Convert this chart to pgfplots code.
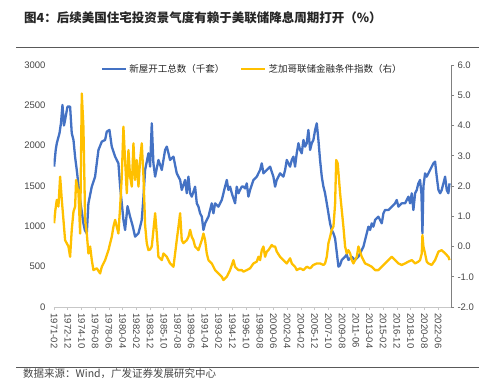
\documentclass[border=0pt]{standalone}
\usepackage{pgfplots}
\pgfplotsset{compat=1.18}
\usepackage{fontspec}
\setmainfont{Liberation Sans}
\newfontfamily\cjk{Noto Sans CJK SC}
\definecolor{bl}{RGB}{68,114,196}
\definecolor{yl}{RGB}{255,192,0}
\definecolor{tx}{RGB}{70,70,70}

\pgfplotstableread{
x y
1971.08 1740
1971.30 1950
1971.44 2030
1971.80 2154
1972.00 2280
1972.20 2505
1972.40 2250
1972.55 2319
1972.87 2484
1973.22 2484
1973.44 2154
1973.67 2071
1973.90 1850
1974.11 1699
1974.56 1327
1975.00 1037
1975.20 950
1975.45 913
1975.67 1285
1976.12 1492
1976.56 1616
1977.01 1947
1977.46 2050
1977.90 2071
1978.12 2174
1978.48 2195
1978.79 1988
1979.24 1864
1979.68 1781
1979.91 1492
1980.35 1079
1980.57 955
1980.90 1250
1981.24 1120
1981.60 1000
1981.91 872
1982.36 913
1982.80 1079
1983.00 1327
1983.25 1699
1983.69 1905
1983.92 1740
1984.14 2277
1984.36 1781
1984.59 1616
1985.03 1823
1985.48 1699
1985.92 1947
1986.15 1988
1986.59 1823
1987.04 1864
1987.48 1657
1987.93 1575
1988.15 1451
1988.60 1575
1988.82 1410
1989.04 1616
1989.27 1410
1989.49 1368
1989.93 1492
1990.16 1285
1990.38 1244
1990.60 1161
1990.83 1120
1991.05 955
1991.27 1037
1991.49 1079
1991.72 1120
1992.16 1285
1992.38 1161
1992.61 1285
1993.05 1244
1993.50 1327
1993.94 1492
1994.17 1575
1994.39 1451
1994.61 1492
1994.84 1410
1995.28 1285
1995.50 1492
1995.73 1410
1995.95 1451
1996.17 1492
1996.40 1492
1996.62 1470
1996.84 1533
1997.06 1368
1997.29 1451
1997.73 1575
1998.18 1616
1998.62 1699
1998.85 1781
1999.07 1657
1999.51 1699
1999.96 1740
2000.40 1616
2000.63 1492
2000.85 1575
2001.30 1657
2001.74 1616
2001.97 1699
2002.19 1823
2002.63 1740
2002.86 1823
2003.08 1864
2003.30 1740
2003.52 1905
2003.75 2030
2003.97 1947
2004.19 1905
2004.42 2071
2004.64 1988
2004.86 2030
2005.08 2195
2005.31 1947
2005.53 2030
2005.75 2071
2005.98 2195
2006.20 2277
2006.42 2071
2006.64 1823
2006.87 1616
2007.09 1492
2007.31 1410
2007.54 1285
2007.76 1161
2007.98 1037
2008.20 955
2008.43 913
2008.65 850
2008.87 680
2009.10 500
2009.32 520
2009.54 583
2009.99 624
2010.20 650
2010.43 583
2010.88 624
2011.32 583
2011.77 624
2012.22 707
2012.44 748
2012.66 831
2012.88 913
2013.11 996
2013.33 955
2013.55 1037
2013.77 996
2014.00 1079
2014.44 1120
2014.89 1037
2015.11 1161
2015.33 1203
2015.78 1203
2016.23 1244
2016.67 1285
2016.89 1327
2017.12 1244
2017.56 1285
2018.01 1285
2018.23 1327
2018.45 1368
2018.68 1285
2018.90 1410
2019.12 1203
2019.35 1410
2019.57 1451
2019.79 1533
2020.01 1575
2020.20 1400
2020.33 913
2020.46 1492
2020.68 1657
2020.90 1616
2021.35 1699
2021.57 1740
2021.80 1781
2022.02 1802
2022.24 1616
2022.47 1451
2022.69 1410
2022.91 1451
2023.36 1616
2023.58 1451
2023.80 1410
2023.95 1533
}\starts

\pgfplotstableread{
x y
1971.08 0.77
1971.25 1.20
1971.44 1.54
1971.66 1.32
1971.885 2.31
1972.11 1.54
1972.33 0.88
1972.55 0.21
1973.00 0.00
1973.22 -0.34
1973.44 0.55
1973.67 1.15
1973.89 1.32
1974.02 2.20
1974.34 1.76
1974.56 0.43
1974.78 5.06
1975.00 3.96
1975.23 0.88
1975.45 0.43
1975.67 -0.23
1975.90 0.00
1976.12 -0.45
1976.34 -0.78
1976.79 -0.72
1977.23 -0.89
1977.46 -0.67
1977.90 -0.45
1978.35 -0.12
1978.79 0.32
1979.02 0.66
1979.24 0.88
1979.68 0.43
1979.91 1.32
1980.13 2.31
1980.35 3.96
1980.57 2.86
1980.80 1.76
1981.02 3.19
1981.24 2.31
1981.47 1.98
1981.69 3.41
1981.91 2.20
1982.13 2.86
1982.36 1.98
1982.58 2.86
1982.80 3.41
1983.03 2.31
1983.25 0.70
1983.47 0.11
1983.69 -0.12
1983.92 -0.10
1984.14 0.00
1984.59 1.10
1984.81 0.43
1985.03 -0.34
1985.48 -0.45
1985.70 -0.23
1986.15 -0.34
1986.59 -0.56
1987.04 -0.67
1987.48 0.21
1987.71 0.66
1987.93 1.10
1988.15 0.21
1988.37 0.11
1988.82 0.21
1989.04 0.32
1989.27 0.55
1989.49 0.32
1989.71 0.21
1989.93 0.00
1990.38 -0.12
1990.83 0.21
1991.05 0.43
1991.27 0.21
1991.49 -0.23
1991.72 -0.45
1992.16 -0.56
1992.61 -0.78
1993.05 -0.89
1993.50 -1.00
1993.72 -1.11
1994.17 -1.00
1994.61 -0.78
1995.06 -0.45
1995.28 -0.67
1995.73 -0.78
1996.17 -0.78
1996.40 -0.83
1996.84 -0.78
1997.29 -0.72
1997.73 -0.56
1998.18 -0.50
1998.40 -0.34
1998.62 -0.45
1998.85 -0.12
1999.07 0.00
1999.29 -0.34
1999.51 -0.17
1999.74 -0.12
2000.18 0.05
2000.40 0.00
2000.63 0.00
2000.85 -0.17
2001.30 -0.34
2001.74 -0.45
2002.19 -0.56
2002.63 -0.39
2002.86 -0.56
2003.30 -0.67
2003.52 -0.78
2003.97 -0.72
2004.42 -0.78
2004.86 -0.67
2005.31 -0.72
2005.75 -0.61
2006.20 -0.56
2006.64 -0.56
2007.09 -0.61
2007.31 -0.56
2007.54 -0.34
2007.76 0.11
2007.98 0.32
2008.20 0.55
2008.43 0.66
2008.65 1.40
2008.80 2.86
2009.00 2.75
2009.32 1.76
2009.54 1.21
2009.76 0.66
2009.99 0.00
2010.21 -0.23
2010.43 -0.12
2010.66 -0.23
2010.88 -0.45
2011.10 -0.56
2011.32 -0.45
2011.55 -0.34
2011.77 0.00
2011.99 -0.17
2012.22 -0.34
2012.66 -0.56
2013.11 -0.61
2013.55 -0.67
2014.00 -0.78
2014.44 -0.78
2014.89 -0.67
2015.33 -0.56
2015.78 -0.45
2016.23 -0.34
2016.67 -0.45
2017.12 -0.56
2017.56 -0.61
2018.01 -0.56
2018.45 -0.50
2018.90 -0.45
2019.35 -0.56
2019.79 -0.50
2020.01 -0.45
2020.24 -0.23
2020.33 0.38
2020.46 0.00
2020.68 -0.23
2020.90 -0.50
2021.13 -0.56
2021.57 -0.61
2022.02 -0.45
2022.47 -0.17
2022.91 -0.12
2023.36 -0.23
2023.80 -0.34
2023.95 -0.45
}\nfci

\pgfplotsset{
  common/.style={
    at={(53.5bp,80bp)}, anchor=south west, scale only axis,
    width=397.5bp, height=242bp,
    xmin=1971.0, xmax=2024.15,
    tick label style={font=\fontsize{9.5bp}{11bp}\selectfont, text=tx},
    /pgf/number format/assume math mode=true,
  }
}

\begin{document}
\begin{tikzpicture}[x=1bp,y=1bp]
\useasboundingbox (0,0) rectangle (500,387);
\node[anchor=west, inner sep=0, font=\cjk\bfseries\fontsize{12.5bp}{14bp}\selectfont, text=black!85] at (24,369) {图4：后续美国住宅投资景气度有赖于美联储降息周期打开（\%）};
\draw[line width=0.9bp, black!65] (16,340) -- (479,340);
\draw[line width=0.9bp, black!65] (16,20) -- (479,20);
\node[anchor=west, inner sep=0, font=\cjk\fontsize{10.5bp}{12bp}\selectfont, text=tx] at (23,13) {数据来源：Wind，广发证券发展研究中心};

\begin{axis}[common,
  ymin=0, ymax=3000, ytick={0,500,...,3000},
  /pgf/number format/1000 sep={},
  axis x line*=bottom, axis y line*=left,
  y axis line style={draw=none},
  ytick style={draw=none},
  x axis line style={draw=black!22, line width=0.8bp},
  xtick style={draw=black!22, line width=0.8bp},
  tick align=outside, major tick length=3bp,
  yticklabel style={xshift=-1.5bp},
  xtick={1971.083,1972.917,1974.75,1976.583,1978.417,1980.25,1982.083,1983.917,1985.75,1987.583,1989.417,1991.25,1993.083,1994.917,1996.75,1998.583,2000.417,2002.25,2004.083,2005.917,2007.75,2009.583,2011.417,2013.25,2015.083,2016.917,2018.75,2020.583,2022.417},
  xticklabels={1971-02,1972-12,1974-10,1976-08,1978-06,1980-04,1982-02,1983-12,1985-10,1987-08,1989-06,1991-04,1993-02,1994-12,1996-10,1998-08,2000-06,2002-04,2004-02,2005-12,2007-10,2009-08,2011-06,2013-04,2015-02,2016-12,2018-10,2020-08,2022-06},
  xticklabel style={rotate=-90, anchor=west, xshift=0bp},
]
\addplot[bl, line width=2.3bp, line join=round] table[x=x,y=y] {\starts};
\end{axis}

\begin{axis}[common,
  ymin=-2, ymax=6, ytick={-2,-1,...,6},
  axis x line=none, axis y line*=right,
  y axis line style={draw=black!50, line width=0.8bp},
  ytick style={draw=black!50, line width=0.8bp},
  tick align=outside, major tick length=3bp,
  yticklabel style={/pgf/number format/.cd, fixed, fixed zerofill, precision=1},
  legend style={at={(0.5,1.0)}, anchor=north, yshift=4bp, draw=none, fill=none,
    legend columns=2, font=\cjk\fontsize{9.5bp}{11bp}\selectfont, text=black!85,
    /tikz/every even column/.append style={column sep=14bp},
    inner sep=1bp},
  legend image code/.code={\draw[#1] (0bp,0bp) -- (24bp,0bp);},
]
\addlegendimage{bl, line width=2.3bp}
\addlegendentry{新屋开工总数（千套）}
\addplot[yl, line width=2.3bp, line join=round] table[x=x,y=y] {\nfci};
\addlegendentry{芝加哥联储金融条件指数（右）}
\end{axis}
\end{tikzpicture}
\end{document}
